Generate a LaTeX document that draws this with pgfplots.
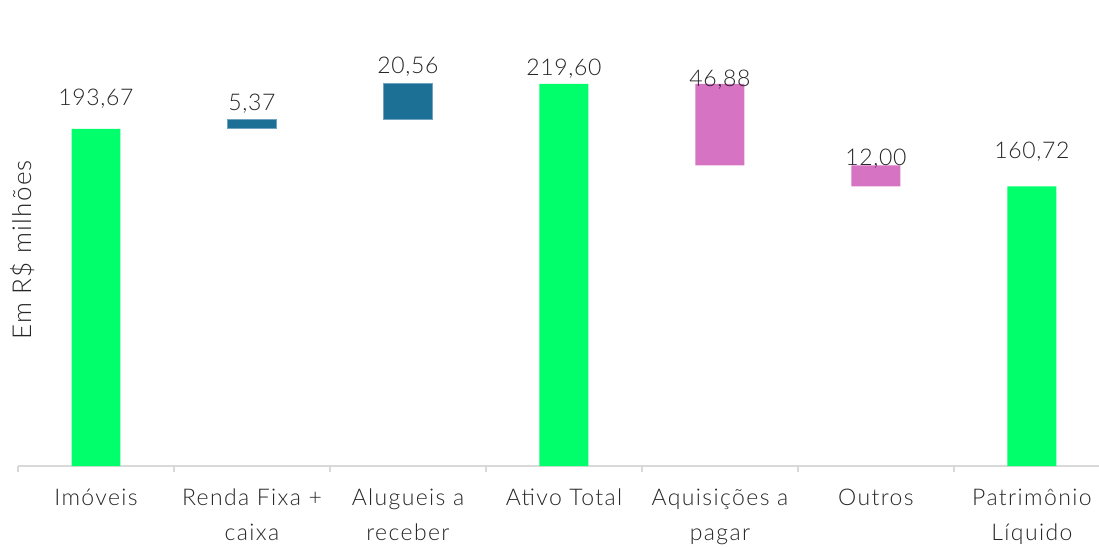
\documentclass[border=0pt]{standalone}
\usepackage{fontspec}
\setmainfont{Lato Light}
\newfontfamily\espacado{Lato Light}[LetterSpace=6]
\newfontfamily\espacadoy{Lato Light}[LetterSpace=5]
\newfontfamily\espacadon{Lato Light}[LetterSpace=3]
\usepackage{pgfplots}
\pgfplotsset{compat=1.18}
\definecolor{verde}{HTML}{00FF6A}
\definecolor{azul}{HTML}{1C7096}
\definecolor{azulborda}{HTML}{6FA3C0}
\definecolor{rosa}{HTML}{D673C3}
\definecolor{ink}{HTML}{262626}
\definecolor{eixo}{HTML}{D9D9D9}

\pgfplotsset{wf/.style={
  scale only axis, width=540.5pt, height=233pt,
  xmin=-0.5, xmax=6.43, ymin=0, ymax=267.8,
  clip=false,
}}

\begin{document}
\begin{tikzpicture}
\begin{axis}[wf, ybar stacked, bar width=0.314,
  axis x line*=bottom, axis y line=none,
  axis line style={draw=eixo, line width=1pt},
  xtick={0,1,2,3,4,5,6},
  xticklabels={Imóveis,Renda Fixa +\\caixa,Alugueis a\\receber,Ativo Total,Aquisições a\\pagar,Outros,Patrimônio\\Líquido},
  xticklabel style={align=center, font=\espacado\fontsize{11.5}{17.5}\selectfont, color=ink, yshift=-8pt},
  major tick length=0pt,
  minor xtick={-0.5,0.5,1.5,2.5,3.5,4.5,5.5},
  minor tick length=3pt, tick align=outside,
  minor tick style={draw=eixo, line width=1pt},
]
% base invisivel
\addplot[draw=none, fill=none] table {
x y
0 0
1 193.67
2 199.04
3 0
4 172.72
5 160.72
6 0
};
\addplot[draw=none, fill=verde] table {
x y
0 193.67
1 0
2 0
3 219.60
4 0
5 0
6 160.72
};
\addplot[draw=azulborda, line width=0.5pt, fill=azul] table {
x y
0 0
1 5.37
2 20.56
3 0
4 0
5 0
6 0
};
\addplot[draw=none, fill=rosa] table {
x y
0 0
1 0
2 0
3 0
4 46.88
5 12.00
6 0
};
\node[rotate=90, color=ink, font=\espacadoy\fontsize{13}{15}\selectfont] at (rel axis cs:0.004,0.464) {Em R\$ milhões};
\end{axis}
\begin{axis}[wf, hide axis]
\addplot[draw=none, mark=none, nodes near coords, point meta=explicit symbolic,
  nodes near coords style={anchor=center, color=ink, font=\espacadon\fontsize{11.5}{14}\selectfont}]
  table[meta=lab] {
x y lab
0 210.9 193,67
1 208.0 5,37
2 229.3 20,56
3 228.2 219,60
4 221.8 46,88
5 176.4 12,00
6 180.5 160,72
};
\end{axis}
\pgfresetboundingbox
\path[use as bounding box] ([shift={(-9pt,-40pt)}]current axis.south west) rectangle (current axis.north east);
\end{tikzpicture}
\end{document}
